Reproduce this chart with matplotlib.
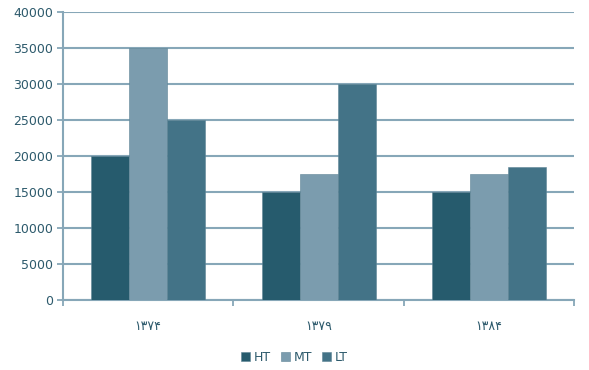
import numpy as np
import matplotlib.pyplot as plt

years = ['۱۳۷۴', '۱۳۷۹', '۱۳۸۴']
ht = [20000, 15000, 15000]
mt = [35000, 17500, 17500]
lt = [25000, 30000, 18500]

series = ['HT', 'MT', 'LT']
colors = ['#265b6d', '#7b9cae', '#437387']
grid_col = '#87a7b8'
text_col = '#2d5a6c'

fig = plt.figure(figsize=(5.89, 3.70), dpi=100)
ax = fig.add_axes([0.107, 0.189, 0.868, 0.779])

x = np.arange(len(years))
w = 0.223
for i, (vals, name) in enumerate(zip([ht, mt, lt], series)):
    ax.bar(x + (i - 1) * w, vals, w, color=colors[i], label=name,
           edgecolor='#5f8596', linewidth=0.4, zorder=3)

ax.set_xlim(-0.5, 2.5)
ax.set_ylim(0, 40000)
ax.set_yticks(np.arange(0, 40001, 5000))
ax.yaxis.grid(True, color=grid_col, linewidth=1.5, zorder=0)

# category boundaries get the tick marks, labels sit in between
ax.set_xticks([-0.5, 0.5, 1.5, 2.5], minor=False)
ax.set_xticklabels([])
ax.set_xticks(x, minor=True)
ax.set_xticklabels(years, minor=True, fontsize=9, color=text_col)
ax.tick_params(axis='x', which='minor', length=0, pad=14)
ax.tick_params(axis='x', which='major', length=4, color=grid_col, width=1.3)
ax.tick_params(axis='y', length=4, color=grid_col, width=1.3, labelsize=9,
               labelcolor=text_col, pad=3)

for s in ['top', 'right']:
    ax.spines[s].set_visible(False)
for s in ['left', 'bottom']:
    ax.spines[s].set_color(grid_col)
    ax.spines[s].set_linewidth(1.5)

fig.legend(loc='center', bbox_to_anchor=(0.5, 0.035), ncol=3, frameon=False,
           fontsize=9, handlelength=0.7, handleheight=0.7, handletextpad=0.3,
           columnspacing=0.8, labelcolor=text_col)

fig.savefig('out.png', dpi=100)
